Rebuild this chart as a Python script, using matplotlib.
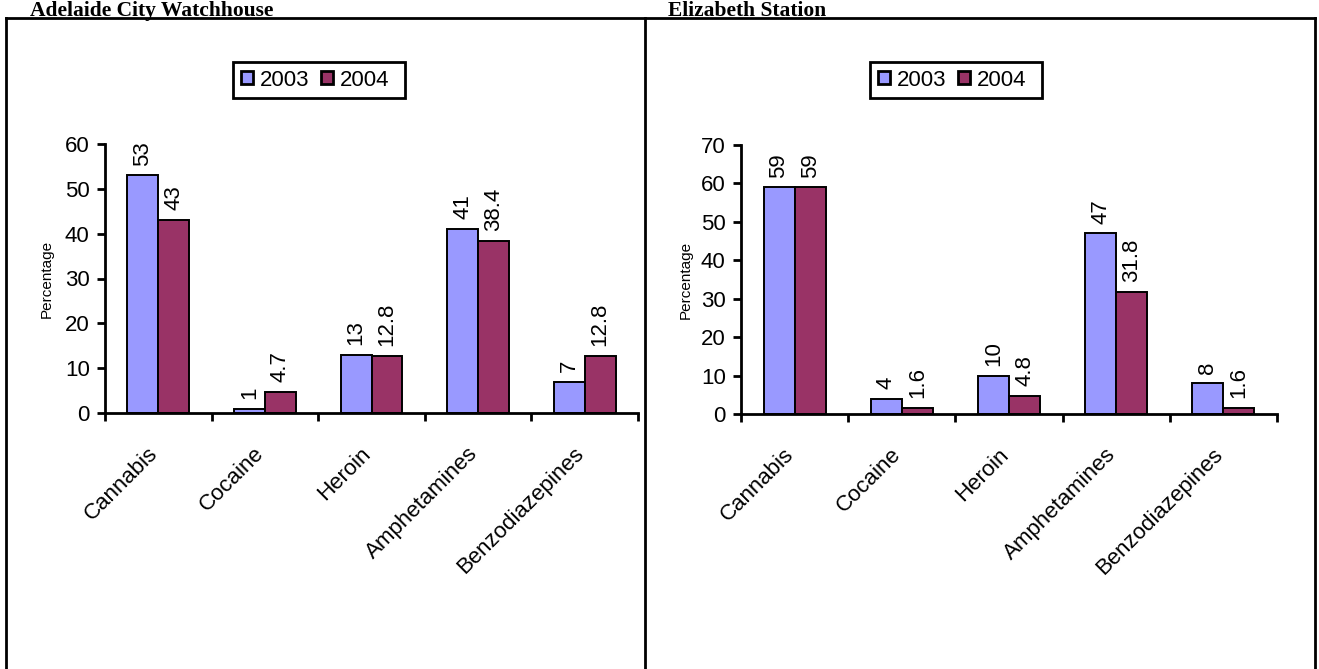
import matplotlib
matplotlib.use("Agg")
import matplotlib.pyplot as plt
import numpy as np
from matplotlib.patches import Rectangle
from matplotlib.lines import Line2D

plt.rcParams['font.family'] = ['Liberation Sans', 'DejaVu Sans']

categories = ["Cannabis", "Cocaine", "Heroin", "Amphetamines", "Benzodiazepines"]
series_names = ["2003", "2004"]

adelaide_2003 = [53, 1, 13, 41, 7]
adelaide_2004 = [43, 4.7, 12.8, 38.4, 12.8]
elizabeth_2003 = [59, 4, 10, 47, 8]
elizabeth_2004 = [59, 1.6, 4.8, 31.8, 1.6]

panel_titles = ["Adelaide City Watchhouse", "Elizabeth Station"]
adelaide_ticks = [0, 10, 20, 30, 40, 50, 60]
elizabeth_ticks = [0, 10, 20, 30, 40, 50, 60, 70]

color_2003 = "#9999FF"
color_2004 = "#993366"

FS = 16
W, H = 1319, 669
fig = plt.figure(figsize=(W / 100, H / 100), dpi=100)


def px_rect(x0, y0, x1, y1):
    """Convert a pixel box (top-left origin) into figure fractions."""
    return [x0 / W, 1 - y1 / H, (x1 - x0) / W, (y1 - y0) / H]


def fmt(v):
    return f"{v:g}"


def draw_panel(axrect, v03, v04, yticks, legend_box, ylabel_x):
    ax = fig.add_axes(px_rect(*axrect))
    n = len(categories)
    x = np.arange(n) + 0.5
    w = 0.29
    b1 = ax.bar(x - w / 2, v03, w, color=color_2003, edgecolor="black",
                linewidth=1.4, label=series_names[0], zorder=2)
    b2 = ax.bar(x + w / 2, v04, w, color=color_2004, edgecolor="black",
                linewidth=1.4, label=series_names[1], zorder=2)
    for bars, vals in ((b1, v03), (b2, v04)):
        for rect, v in zip(bars, vals):
            ax.annotate(fmt(v), (rect.get_x() + rect.get_width() / 2, v),
                        xytext=(0, 7), textcoords="offset points",
                        rotation=90, ha="center", va="bottom", fontsize=FS)
    ax.set_xlim(0, n)
    ax.set_ylim(yticks[0], yticks[-1])
    ax.set_yticks(yticks)
    ax.set_xticks(np.arange(n + 1))
    ax.set_xticklabels([])
    ax.set_xticks(x, minor=True)
    ax.set_xticklabels(categories, minor=True, rotation=45, ha="right",
                       va="baseline", rotation_mode="anchor", fontsize=FS)
    ax.tick_params(axis="x", which="minor", length=0, pad=30)
    ax.tick_params(axis="x", which="major", length=6, width=2, direction="out")
    ax.tick_params(axis="y", length=6, width=2, direction="out", labelsize=FS, pad=5)
    for s in ("top", "right"):
        ax.spines[s].set_visible(False)
    for s in ("left", "bottom"):
        ax.spines[s].set_linewidth(2)
    ax.patch.set_alpha(0)

    # y label
    fig.text(ylabel_x / W, 1 - ((axrect[1] + axrect[3]) / 2) / H, "Percentage",
             rotation=90, ha="center", va="center", fontsize=11)

    # legend box and entries
    lx0, ly0, lx1, ly1 = legend_box
    fig.add_artist(Rectangle((lx0 / W, 1 - ly1 / H), (lx1 - lx0) / W, (ly1 - ly0) / H,
                             transform=fig.transFigure, facecolor="white",
                             edgecolor="black", linewidth=2, zorder=3))
    leg = fig.legend(handles=[b1, b2], labels=series_names, ncol=2,
                     loc="center left",
                     bbox_to_anchor=((lx0 + 8) / W, 1 - ((ly0 + ly1) / 2) / H),
                     fontsize=FS, frameon=False,
                     handlelength=0.55, handleheight=0.55, handletextpad=0.3,
                     columnspacing=0.5, borderpad=0, borderaxespad=0)
    leg.set_zorder(4)
    for h in leg.legend_handles:
        h.set_linewidth(2)
    return ax


draw_panel((105, 144, 638, 413), adelaide_2003, adelaide_2004, adelaide_ticks,
           (233, 62, 405, 98), 47)
draw_panel((741, 145, 1277, 414), elizabeth_2003, elizabeth_2004, elizabeth_ticks,
           (870, 62, 1042, 98), 686)

# panel frames
frame_kw = dict(color="black", linewidth=2, transform=fig.transFigure)
top_y = 1 - 18 / H
fig.add_artist(Line2D([6 / W, 1315 / W], [top_y, top_y], **frame_kw))
for xv in (6, 645, 1315):
    fig.add_artist(Line2D([xv / W, xv / W], [0, top_y], **frame_kw))

# panel titles
for tx, t in ((30, panel_titles[0]), (668, panel_titles[1])):
    fig.text(tx / W, 1 - 16 / H, t, ha="left", va="baseline",
             fontsize=15.5, fontweight="bold", family="Liberation Serif")

fig.savefig("out.png", dpi=100)
